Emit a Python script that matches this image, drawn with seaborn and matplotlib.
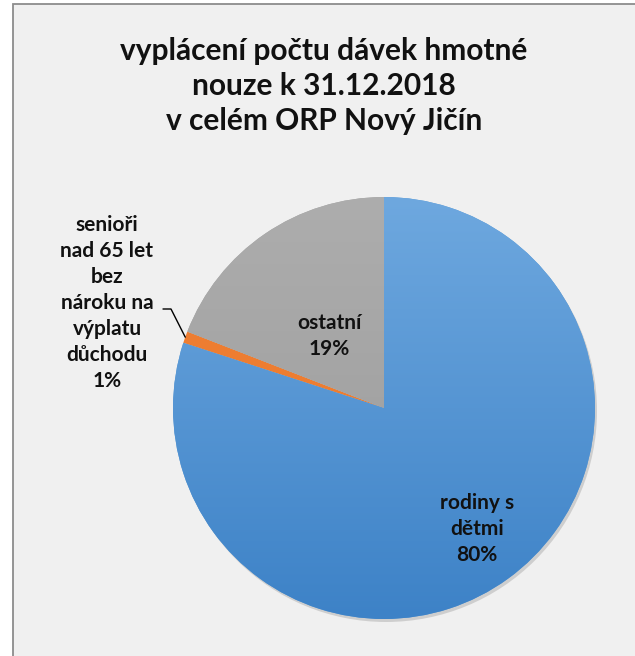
import numpy as np
import matplotlib.pyplot as plt
import seaborn as sns
from matplotlib.colors import LinearSegmentedColormap
from matplotlib.patches import Rectangle, Circle

sns.set_theme(style="white")
plt.rcParams["font.family"] = ["Lato", "DejaVu Sans"]

title = "vyplácení počtu dávek hmotné\nnouze k 31.12.2018\nv celém ORP Nový Jičín"
categories = ["rodiny s\ndětmi", "senioři\nnad 65 let\nbez\nnároku na\nvýplatu\ndůchodu", "ostatní"]
shares = [80.0, 0.9, 19.1]
pct_labels = ["80%", "1%", "19%"]
colors = ["#5b9bd5", "#ed7d31", "#a5a5a5"]

W, H = 635, 656
fig = plt.figure(figsize=(W / 100, H / 100), dpi=100, facecolor="white")
fig.patches.append(Rectangle((13 / W, -0.1), 1.2, 1.1 - 4 / H, transform=fig.transFigure,
                             facecolor="#f0f0f0", edgecolor="#8c8c8c", linewidth=1.3, zorder=-5))
ax = fig.add_axes([0, 0, 1, 1])
ax.patch.set_alpha(0)

cx, cy, r = 384, H - 408, 211
# faint drop shadow under the pie
ax.add_patch(Circle((cx + 2, cy - 3), r, facecolor="#b8b8b8", edgecolor="none", alpha=0.6, zorder=0))
wedges, _ = ax.pie(shares, colors=colors, startangle=90, counterclock=False,
                   center=(cx, cy), radius=r, frame=True,
                   wedgeprops=dict(linewidth=0, zorder=1))

# soft vertical gradients like the office-style fill
grads = {0: ("#6ea8df", "#3d82c7"), 2: ("#adadad", "#9a9a9a")}
grad = np.linspace(0, 1, 256).reshape(-1, 1)
for i, (top, bot) in grads.items():
    cmap = LinearSegmentedColormap.from_list("g", [top, bot])
    im = ax.imshow(grad, cmap=cmap, extent=(cx - r, cx + r, cy - r, cy + r),
                   origin="upper", aspect="auto", zorder=2)
    im.set_clip_path(wedges[i])

ax.set_xlim(0, W)
ax.set_ylim(0, H)
ax.set_aspect("equal")
ax.axis("off")

ax.text(324, H - 86, title, ha="center", va="center", fontsize=21.5, fontweight="bold",
        linespacing=1.3, color="#111111")

lab_font = dict(fontsize=15, fontweight="bold", color="#111111", ha="center", va="center",
                linespacing=1.38, zorder=10)
ax.text(477, H - 529, f"{categories[0]}\n{pct_labels[0]}", **lab_font)
ax.text(329, H - 336, f"{categories[2]}\n{pct_labels[2]}", **lab_font)
ax.text(107, H - 303, f"{categories[1]}\n{pct_labels[1]}", **lab_font)

# leader line to the small slice
w = wedges[1]
mid = np.deg2rad((w.theta1 + w.theta2) / 2)
ex, ey = cx + r * np.cos(mid), cy + r * np.sin(mid)
ax.plot([163, 171, ex], [H - 309, H - 309, ey], color="black", linewidth=1, zorder=9)

fig.savefig("out.png", dpi=100)
